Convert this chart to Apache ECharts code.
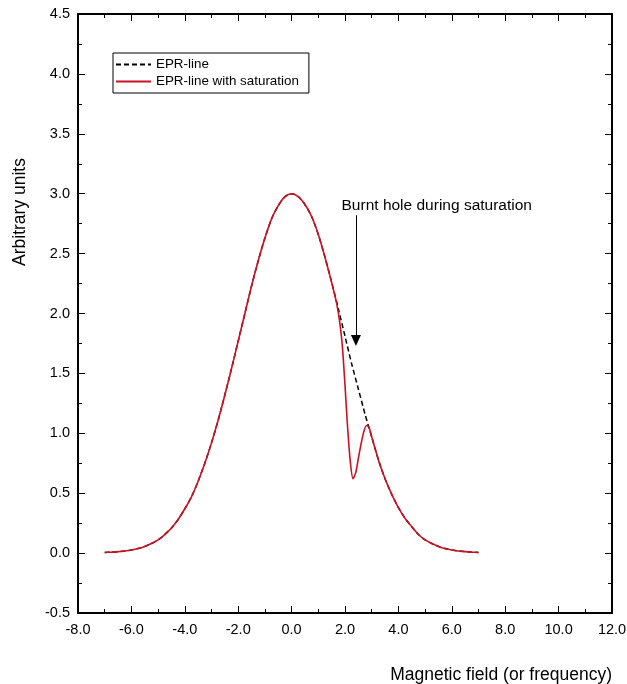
<!DOCTYPE html>
<html>
<head>
<meta charset="utf-8">
<script src="https://cdn.jsdelivr.net/npm/echarts@6/dist/echarts.min.js"></script>
<style>html,body{margin:0;padding:0;background:#fff;}#c{width:627px;height:684px;}</style>
</head>
<body>
<div id="c"></div>
<script>
// EPR line (unsaturated)
const eprX = [-7,-6.75,-6.5,-6.25,-6,-5.75,-5.5,-5.25,-5,-4.75,-4.5,-4.25,-4,-3.75,-3.5,-3.25,-3,-2.75,-2.5,-2.25,-2,-1.75,-1.5,-1.25,-1,-0.75,-0.5,-0.25,0,0.25,0.5,0.75,1,1.25,1.5,1.75,2,2.25,2.5,2.75,3,3.25,3.5,3.75,4,4.25,4.5,4.75,5,5.25,5.5,5.75,6,6.25,6.5,6.75,7];
const eprY = [0.005,0.008,0.012,0.018,0.026,0.038,0.056,0.08,0.11,0.155,0.21,0.28,0.37,0.47,0.60,0.75,0.92,1.11,1.32,1.54,1.77,2.00,2.23,2.44,2.63,2.79,2.90,2.975,3.00,2.975,2.91,2.81,2.66,2.47,2.26,2.04,1.81,1.58,1.37,1.16,0.97,0.78,0.62,0.49,0.38,0.29,0.22,0.155,0.11,0.08,0.056,0.038,0.026,0.018,0.012,0.008,0.005];
// EPR line with saturation (burnt hole)
const satX = [-7,-6.75,-6.5,-6.25,-6,-5.75,-5.5,-5.25,-5,-4.75,-4.5,-4.25,-4,-3.75,-3.5,-3.25,-3,-2.75,-2.5,-2.25,-2,-1.75,-1.5,-1.25,-1,-0.75,-0.5,-0.25,0,0.25,0.5,0.75,1,1.25,1.5,1.6,1.7,1.8,1.9,2,2.1,2.2,2.3,2.4,2.5,2.6,2.7,2.8,2.9,3,3.25,3.5,3.75,4,4.25,4.5,4.75,5,5.25,5.5,5.75,6,6.25,6.5,6.75,7];
const satY = [0.005,0.008,0.012,0.018,0.026,0.038,0.056,0.08,0.11,0.155,0.21,0.28,0.37,0.47,0.60,0.75,0.92,1.11,1.32,1.54,1.77,2.00,2.23,2.44,2.63,2.79,2.90,2.975,3.00,2.975,2.91,2.81,2.66,2.47,2.26,2.17,2.07,1.93,1.73,1.40,1.04,0.76,0.62,0.67,0.79,0.91,1.01,1.065,1.05,0.97,0.78,0.62,0.49,0.38,0.29,0.22,0.155,0.11,0.08,0.056,0.038,0.026,0.018,0.012,0.008,0.005];
// annotation
const arrowX = [2.41, 2.41];
const arrowY = [2.82, 1.775];
const noteText = 'Burnt hole during saturation';
const notePos = [1.87, 2.9];
const seriesNames = ['EPR-line', 'EPR-line with saturation'];

const FONT = 'Liberation Sans, Arial, sans-serif';
const chart = echarts.init(document.getElementById('c'), null, {renderer: 'canvas'});

function pairs(xs, ys){ return xs.map((x,i)=>[x, ys[i]]); }

const axisCommon = {
  axisLine: {show: true, onZero: false, lineStyle: {color: '#000', width: 2}},
  axisTick: {show: true, inside: true, length: 7, lineStyle: {color: '#000', width: 1}},
  minorTick: {show: true, splitNumber: 2, length: 4, lineStyle: {color: '#000', width: 1}},
  splitLine: {show: false}
};

chart.setOption({
  animation: false,
  backgroundColor: '#fff',
  grid: {left: 78, right: 15, top: 14, bottom: 71, containLabel: false, outerBoundsMode: 'none'},
  xAxis: [
    Object.assign({type: 'value', min: -8, max: 12, interval: 2, position: 'bottom',
      axisLabel: {color: '#000', fontSize: 14.5, fontFamily: FONT, margin: 9, formatter: v => v.toFixed(1)}}, axisCommon),
    Object.assign({type: 'value', min: -8, max: 12, interval: 2, position: 'top',
      axisLabel: {show: false}}, axisCommon)
  ],
  yAxis: [
    Object.assign({type: 'value', min: -0.5, max: 4.5, interval: 0.5, position: 'left',
      axisLabel: {color: '#000', fontSize: 14.5, fontFamily: FONT, margin: 8, formatter: v => v.toFixed(1)}}, axisCommon),
    Object.assign({type: 'value', min: -0.5, max: 4.5, interval: 0.5, position: 'right',
      axisLabel: {show: false}}, axisCommon)
  ],
  legend: {
    orient: 'vertical', left: 113, top: 53,
    data: seriesNames,
    itemWidth: 35, itemHeight: 12, itemGap: 4,
    padding: [5, 10, 5, 2],
    borderColor: '#000', borderWidth: 1,
    itemStyle: {opacity: 0},
    textStyle: {color: '#000', fontSize: 13.4, fontFamily: FONT},
    backgroundColor: '#fff'
  },
  series: [
    {
      name: seriesNames[0], type: 'line', data: pairs(eprX, eprY),
      smooth: 0.25, showSymbol: false, symbol: 'none',
      lineStyle: {color: '#000', width: 1.5, type: [5, 3]},
      itemStyle: {color: '#000'},
      z: 2
    },
    {
      name: seriesNames[1], type: 'line', data: pairs(satX, satY),
      smooth: 0.25, showSymbol: false, symbol: 'none',
      lineStyle: {color: '#cc1122', width: 1.6},
      itemStyle: {color: '#cc1122'},
      z: 3,
      markLine: {
        silent: true, symbol: ['none', 'triangle'], symbolSize: [10, 11], symbolRotate: 180,
        lineStyle: {color: '#000', width: 1, type: 'solid'},
        label: {show: false},
        data: [[{coord: [arrowX[0], arrowY[0]]}, {coord: [arrowX[1], arrowY[1]]}]]
      },
      markPoint: {
        silent: true, symbol: 'circle', symbolSize: 0,
        label: {show: true, position: 'right', distance: 0, formatter: noteText,
          color: '#000', fontSize: 15.5, fontFamily: FONT},
        data: [{coord: notePos}]
      }
    }
  ],
  graphic: [
    {type: 'text', x: 20, y: 212, rotation: Math.PI / 2,
      style: {text: 'Arbitrary units', fill: '#000', font: '17.5px ' + FONT, textAlign: 'center', textVerticalAlign: 'middle'}},
    {type: 'text', x: 612, y: 675,
      style: {text: 'Magnetic field (or frequency)', fill: '#000', font: '17.5px ' + FONT, textAlign: 'right', textVerticalAlign: 'middle'}}
  ]
});
</script>
</body>
</html>
